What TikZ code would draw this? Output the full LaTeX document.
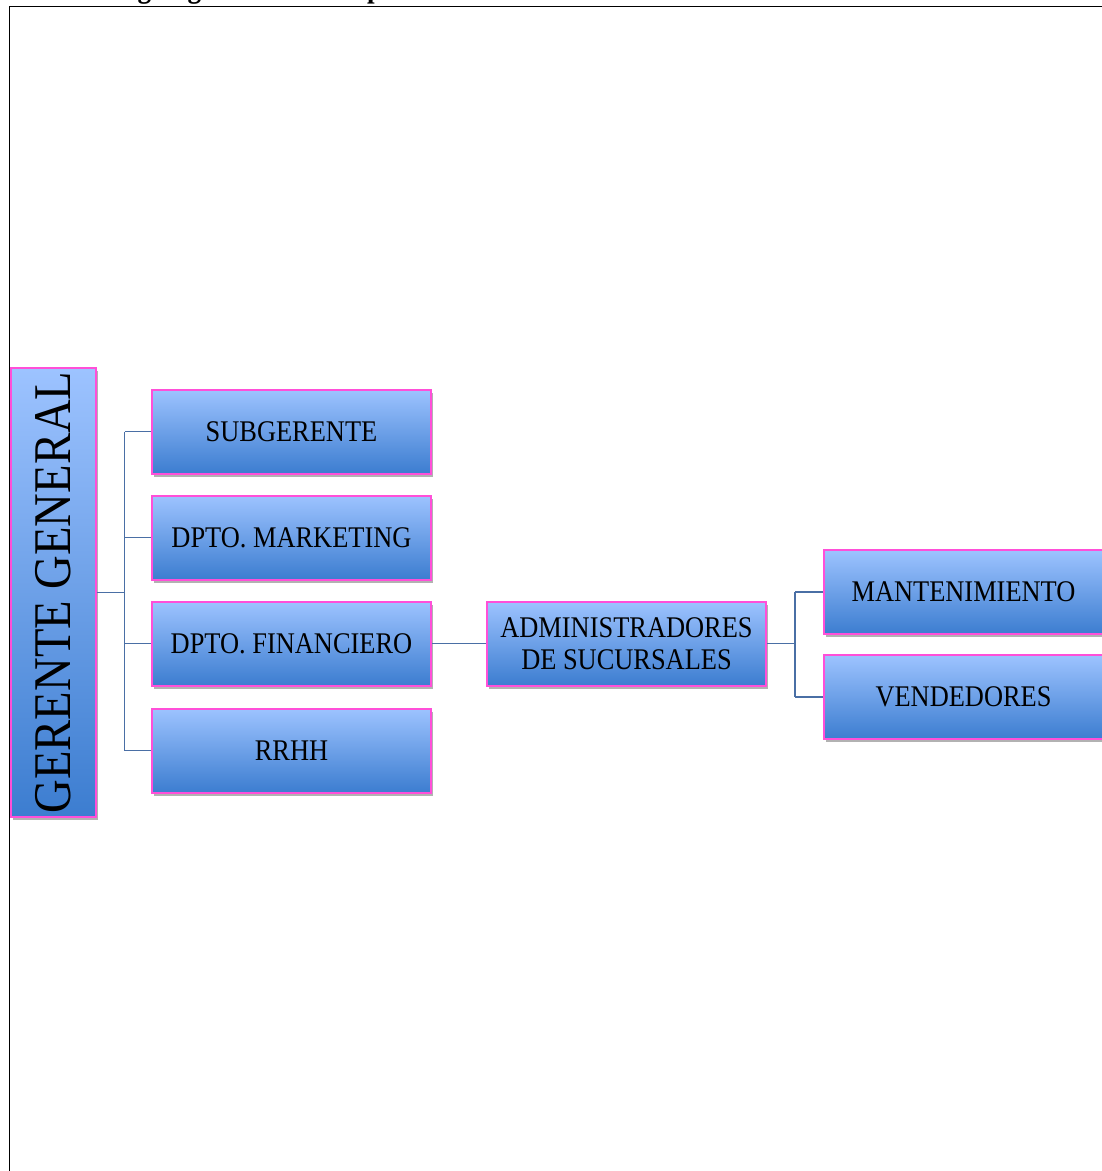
\documentclass[tikz,border=0pt]{standalone}
\usepackage{fontspec}
\setmainfont[FakeStretch=0.88]{Liberation Serif}
\usepackage{tikz}
\usetikzlibrary{shapes,positioning,calc,shadows}
\definecolor{boxtop}{HTML}{9DC3FF}
\definecolor{boxbottom}{HTML}{3C7DD0}
\definecolor{boxborder}{HTML}{FF4FD8}
\definecolor{linkblue}{HTML}{4A6FA5}

\begin{document}
\begin{tikzpicture}[
            x=1pt, y=-1pt,
            node distance=20pt,
            unit/.style={rectangle, draw=boxborder, line width=2pt,
                        top color=boxtop, bottom color=boxbottom,
                        minimum width=279pt, minimum height=84pt,
                        align=center, font=\fontsize{30}{32}\selectfont,
                        drop shadow={shadow xshift=2pt, shadow yshift=-3pt,
                                     opacity=0.3, fill=black}},
            link/.style={linkblue, line width=1.8pt}
        ]
            \useasboundingbox (0,0) rectangle (1102,1171);
            % page frame and cut title
            \draw[line width=1.5pt] (9.5,1200) -- (9.5,6.5) -- (1120,6.5);
            \node[anchor=base west, inner sep=0pt, font=\fontsize{31}{33}\selectfont\bfseries]
                (title) at (4,-3) {Gráfico: organigrama de la empresa.};

            \node[unit, rotate=90, minimum width=449pt, minimum height=85pt,
                  font=\fontsize{53}{55}\selectfont] (ger) at (53,592.5) {GERENTE GENERAL};
            \node[unit] (sub) at (291.5,431.5) {SUBGERENTE};
            \node[unit, below=of sub] (mkt) {DPTO. MARKETING};
            \node[unit, below=of mkt] (fin) {DPTO. FINANCIERO};
            \node[unit, below=21pt of fin] (rrhh) {RRHH};
            \node[unit, right=54pt of fin] (admin) {ADMINISTRADORES\\DE SUCURSALES};
            \node[unit, right=56pt of admin, yshift=51.5pt] (mant) {MANTENIMIENTO};
            \node[unit, below=19pt of mant] (vend) {VENDEDORES};

            % connectors
            \draw[link] (ger.south) -- ++(28,0) coordinate (bus);
            \draw[link] (sub.west -| bus) -- (rrhh.west -| bus);
            \foreach \b in {sub,mkt,fin,rrhh}
                \draw[link] (\b.west) -- (\b.west -| bus);
            \draw[link] (fin) -- (admin);
            \draw[link] (admin.east) -- ++(28,0) coordinate (split);
            \draw[link] (mant.west -| split) -- (vend.west -| split);
            \draw[link] (mant.west) -- (mant.west -| split);
            \draw[link] (vend.west) -- (vend.west -| split);
        \end{tikzpicture}
\end{document}
